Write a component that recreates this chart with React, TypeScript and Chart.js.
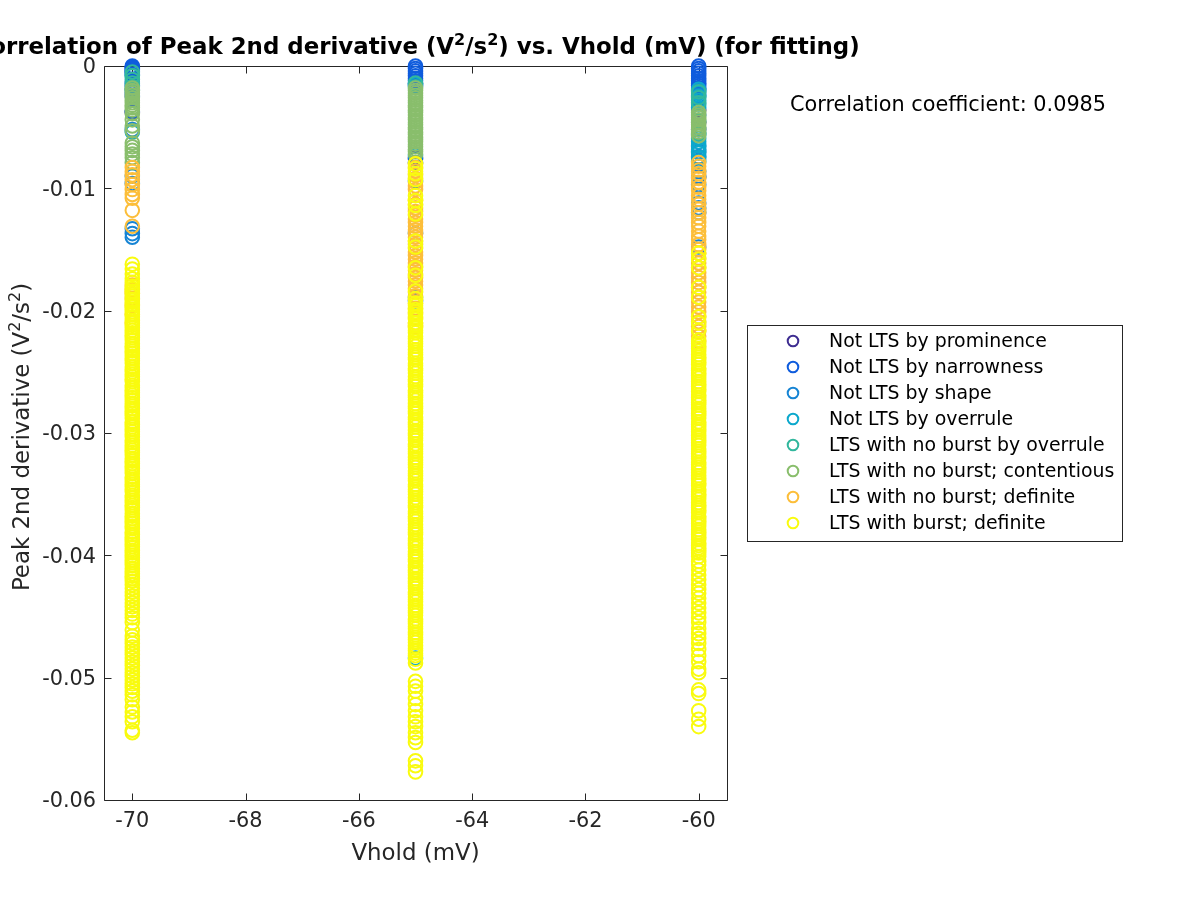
import React, { useEffect, useRef } from "react";
import { Chart, registerables } from "chart.js";

Chart.register(...registerables);

// ---------------- data ----------------
const vholdLevels = [-70, -65, -60];
const xTickValues = [-70, -68, -66, -64, -62, -60];
const xTickLabels = ["-70", "-68", "-66", "-64", "-62", "-60"];
const yTickValues = [0, -0.01, -0.02, -0.03, -0.04, -0.05, -0.06];
const yTickLabels = ["0", "-0.01", "-0.02", "-0.03", "-0.04", "-0.05", "-0.06"];
const groupNames = [
  "Not LTS by prominence",
  "Not LTS by narrowness",
  "Not LTS by shape",
  "Not LTS by overrule",
  "LTS with no burst by overrule",
  "LTS with no burst; contentious",
  "LTS with no burst; definite",
  "LTS with burst; definite",
];
const groupColors = [
  "rgb(62,45,145)",
  "rgb(15,92,221)",
  "rgb(22,132,212)",
  "rgb(12,168,204)",
  "rgb(50,183,157)",
  "rgb(137,190,108)",
  "rgb(252,190,58)",
  "rgb(249,251,14)",
];
const correlationText = "Correlation coefficient: 0.0985";

// Not LTS by prominence
const prominenceAt70 = [-0.0038];
const prominenceAt65 = [-0.0075];
const prominenceAt60 = [-0.0036, -0.0046];

// Not LTS by narrowness
const narrownessAt70 = [0, -0.0001, -0.0002, -0.0003, -0.0004, -0.0005, -0.0007, -0.0013, -0.0016, -0.0019, -0.0022, -0.0025, -0.0037];
const narrownessAt65 = [0, -0.0002, -0.0004, -0.0006, -0.0008, -0.001, -0.0012, -0.0014, -0.0016, -0.0076, -0.0079];
const narrownessAt60 = [0, -0.0002, -0.0004, -0.0006, -0.0008, -0.001, -0.0012, -0.0014, -0.0016, -0.0018, -0.0052, -0.0091];

// Not LTS by shape
const shapeAt70 = [-0.0052, -0.009, -0.0096, -0.0133, -0.0137, -0.014];
const shapeAt65 = [-0.0094, -0.0137, -0.0189, -0.0192];
const shapeAt60 = [-0.002, -0.0024, -0.004, -0.0066, -0.007, -0.0074, -0.0086, -0.009, -0.0097, -0.0112, -0.0116, -0.012, -0.0148];

// Not LTS by overrule
const overruleAt70 = [-0.0008, -0.0054];
const overruleAt65 = [-0.0015, -0.0073, -0.0484];
const overruleAt60 = [-0.0019, -0.0022, -0.0025, -0.0028, -0.0031, -0.0034, -0.0056, -0.0059, -0.0062, -0.0065, -0.0068, -0.0071, -0.0075, -0.0078];

// LTS with no burst by overrule
const noBurstOverruleAt70 = [-0.0005, -0.0008, -0.0011, -0.0014, -0.0017, -0.002];
const noBurstOverruleAt65 = [-0.0014, -0.0017];
const noBurstOverruleAt60 = [-0.0021, -0.0026, -0.003, -0.0045, -0.0055];

// LTS with no burst; contentious
const contentiousAt70 = [-0.0018, -0.002, -0.0022, -0.0024, -0.0026, -0.0028, -0.003, -0.0032, -0.0034, -0.0036, -0.0039, -0.0044, -0.0049, -0.0053, -0.0063, -0.0066, -0.0069, -0.0072, -0.0075, -0.0079];
const contentiousAt65 = [-0.0018, -0.002, -0.0022, -0.0024, -0.0026, -0.0028, -0.003, -0.0032, -0.0034, -0.0036, -0.0038, -0.004, -0.0042, -0.0044, -0.0046, -0.0048, -0.005, -0.0052, -0.0054, -0.0056, -0.0058, -0.006, -0.0062, -0.0064, -0.0066, -0.0068, -0.007, -0.0072];
const contentiousAt60 = [-0.0038, -0.004, -0.0042, -0.0044, -0.0046, -0.0048, -0.005, -0.0052, -0.0054, -0.0057];

// LTS with no burst; definite
const noBurstDefiniteAt70 = [-0.0083, -0.0086, -0.0089, -0.0093, -0.0097, -0.0101, -0.0105, -0.0108, -0.0118, -0.0131, -0.0179, -0.0183, -0.0186, -0.019, -0.0196, -0.0203, -0.021];
const noBurstDefiniteAt65 = [
  -0.008, -0.0083, -0.0086, -0.0089, -0.0092, -0.0095, -0.0098, -0.0101, -0.011, -0.0113,
  -0.0116, -0.0119, -0.0122, -0.0125, -0.0128, -0.0131, -0.0134, -0.0137, -0.014, -0.0143,
  -0.0146, -0.0149, -0.0152, -0.0155, -0.0158, -0.0161, -0.0164, -0.0167, -0.017, -0.0173,
  -0.0176, -0.0179, -0.0182, -0.0185, -0.0188, -0.0191, -0.0194, -0.0198, -0.0202, -0.0206,
  -0.021, -0.0213,
];
const noBurstDefiniteAt60 = [
  -0.0079, -0.0082, -0.0085, -0.0088, -0.0092, -0.0095, -0.0099, -0.0102, -0.0106, -0.0109,
  -0.0113, -0.0117, -0.012, -0.0124, -0.0128, -0.0131, -0.0135, -0.0139, -0.0142, -0.0146,
  -0.015, -0.0153, -0.0157, -0.0161, -0.0165, -0.0169, -0.0173, -0.0177, -0.0181, -0.0185,
  -0.0189, -0.0193, -0.0197, -0.0201, -0.0205, -0.0209, -0.0213, -0.0217, -0.0221, -0.0225,
];

// LTS with burst; definite
const burstAt70 = [
  -0.0162, -0.0166, -0.017, -0.0174, -0.0177, -0.018, -0.0182, -0.0184, -0.0186, -0.0188,
  -0.0191, -0.0193, -0.0195, -0.0197, -0.0199, -0.0201, -0.0203, -0.0205, -0.0208, -0.021,
  -0.0212, -0.0214, -0.0216, -0.0218, -0.022, -0.0222, -0.0224, -0.0227, -0.0229, -0.0231,
  -0.0233, -0.0235, -0.0237, -0.0239, -0.0241, -0.0243, -0.0246, -0.0248, -0.025, -0.0252,
  -0.0254, -0.0256, -0.0258, -0.0261, -0.0263, -0.0265, -0.0267, -0.0269, -0.0271, -0.0273,
  -0.0276, -0.0278, -0.028, -0.0282, -0.0284, -0.0286, -0.0288, -0.0291, -0.0293, -0.0295,
  -0.0297, -0.0299, -0.0301, -0.0303, -0.0306, -0.0308, -0.031, -0.0312, -0.0314, -0.0316,
  -0.0318, -0.0321, -0.0323, -0.0325, -0.0327, -0.0329, -0.0331, -0.0333, -0.0336, -0.0338,
  -0.034, -0.0342, -0.0344, -0.0346, -0.0348, -0.0351, -0.0353, -0.0355, -0.0357, -0.0359,
  -0.0361, -0.0363, -0.0366, -0.0368, -0.037, -0.0372, -0.0374, -0.0376, -0.0378, -0.0381,
  -0.0383, -0.0385, -0.0387, -0.0389, -0.0391, -0.0393, -0.0396, -0.0398, -0.04, -0.0402,
  -0.0404, -0.0406, -0.0408, -0.0411, -0.0413, -0.0415, -0.0417, -0.0419, -0.0421, -0.0424,
  -0.0427, -0.043, -0.0433, -0.0436, -0.0439, -0.0442, -0.0445, -0.0448, -0.0451, -0.0455,
  -0.0461, -0.0466, -0.0469, -0.0472, -0.0475, -0.0478, -0.0481, -0.0484, -0.0487, -0.049,
  -0.0493, -0.0496, -0.0499, -0.0502, -0.0505, -0.0508, -0.0511, -0.0514, -0.0518, -0.0524,
  -0.0528, -0.0532, -0.0536, -0.0543, -0.0545,
];
const burstAt65 = [
  -0.008, -0.0084, -0.0088, -0.0093, -0.0106, -0.011, -0.0114, -0.0121, -0.0143, -0.0148,
  -0.0165, -0.0171, -0.0184, -0.019,
  -0.0194, -0.0196, -0.0199, -0.0201, -0.0203, -0.0205, -0.0207, -0.021, -0.0212, -0.0214,
  -0.0216, -0.0218, -0.0221, -0.0223, -0.0225, -0.0227, -0.0229, -0.0232, -0.0234, -0.0236,
  -0.0238, -0.024, -0.0243, -0.0245, -0.0247, -0.0249, -0.0251, -0.0254, -0.0256, -0.0258,
  -0.026, -0.0262, -0.0265, -0.0267, -0.0269, -0.0271, -0.0273, -0.0276, -0.0278, -0.028,
  -0.0282, -0.0284, -0.0287, -0.0289, -0.0291, -0.0293, -0.0295, -0.0298, -0.03, -0.0302,
  -0.0304, -0.0306, -0.0309, -0.0311, -0.0313, -0.0315, -0.0317, -0.032, -0.0322, -0.0324,
  -0.0326, -0.0328, -0.0331, -0.0333, -0.0335, -0.0337, -0.0339, -0.0342, -0.0344, -0.0346,
  -0.0348, -0.035, -0.0353, -0.0355, -0.0357, -0.0359, -0.0361, -0.0364, -0.0366, -0.0368,
  -0.037, -0.0372, -0.0375, -0.0377, -0.0379, -0.0381, -0.0383, -0.0386, -0.0388, -0.039,
  -0.0392, -0.0394, -0.0397, -0.0399, -0.0401, -0.0403, -0.0405, -0.0408, -0.041, -0.0412,
  -0.0414, -0.0416, -0.0419, -0.0421, -0.0423, -0.0425, -0.0427, -0.043, -0.0432, -0.0434,
  -0.0436, -0.0438, -0.0441, -0.0443, -0.0445, -0.0447, -0.0449, -0.0452, -0.0454, -0.0456,
  -0.0458, -0.046, -0.0463, -0.0465, -0.0467, -0.0469, -0.0471, -0.0474, -0.0476, -0.0478,
  -0.048, -0.0482, -0.0485, -0.0488,
  -0.0503, -0.0507, -0.0511, -0.0517, -0.0522, -0.0527, -0.0532, -0.0536, -0.054, -0.0545,
  -0.0549, -0.0553, -0.0568, -0.0572, -0.0577,
];
const burstAt60 = [
  -0.0153, -0.0158, -0.0165, -0.0181, -0.0189, -0.0205, -0.021, -0.0216,
  -0.0224, -0.0227, -0.0229, -0.0231, -0.0233, -0.0236, -0.0238, -0.024, -0.0242, -0.0244,
  -0.0247, -0.0249, -0.0251, -0.0253, -0.0255, -0.0258, -0.026, -0.0262, -0.0264, -0.0266,
  -0.0269, -0.0271, -0.0273, -0.0275, -0.0277, -0.028, -0.0282, -0.0284, -0.0286, -0.0288,
  -0.0291, -0.0293, -0.0295, -0.0297, -0.0299, -0.0302, -0.0304, -0.0306, -0.0308, -0.031,
  -0.0313, -0.0315, -0.0317, -0.0319, -0.0321, -0.0324, -0.0326, -0.0328, -0.033, -0.0332,
  -0.0335, -0.0337, -0.0339, -0.0341, -0.0343, -0.0346, -0.0348, -0.035, -0.0352, -0.0354,
  -0.0357, -0.0359, -0.0361, -0.0363, -0.0365, -0.0368, -0.037, -0.0372, -0.0374, -0.0376,
  -0.0379, -0.0381, -0.0383, -0.0385, -0.0387, -0.039, -0.0392, -0.0394, -0.0396, -0.0398,
  -0.0401, -0.0405, -0.0408, -0.0412, -0.0416, -0.042, -0.0424, -0.0428, -0.0431, -0.0435,
  -0.0439, -0.0443, -0.0447, -0.0451, -0.0455, -0.046, -0.0464, -0.0468, -0.0472, -0.0477,
  -0.0482, -0.0487, -0.0493, -0.0496, -0.051, -0.0513, -0.0527, -0.0534, -0.054,
];

const groupValues = [
  [prominenceAt70, prominenceAt65, prominenceAt60],
  [narrownessAt70, narrownessAt65, narrownessAt60],
  [shapeAt70, shapeAt65, shapeAt60],
  [overruleAt70, overruleAt65, overruleAt60],
  [noBurstOverruleAt70, noBurstOverruleAt65, noBurstOverruleAt60],
  [contentiousAt70, contentiousAt65, contentiousAt60],
  [noBurstDefiniteAt70, noBurstDefiniteAt65, noBurstDefiniteAt60],
  [burstAt70, burstAt65, burstAt60],
];

// ---------------- drawing helpers ----------------
const FONT = '"DejaVu Sans", "Liberation Sans", sans-serif';
const AXIS_COLOR = "#262626";

type Seg = { t: string; sup?: boolean };

function segFont(size: number, bold: boolean, sup?: boolean) {
  const s = sup ? size * 0.7 : size;
  return `${bold ? "bold " : ""}${s}px ${FONT}`;
}

function richWidth(ctx: CanvasRenderingContext2D, segs: Seg[], size: number, bold: boolean) {
  let w = 0;
  for (const s of segs) {
    ctx.font = segFont(size, bold, s.sup);
    w += ctx.measureText(s.t).width;
  }
  return w;
}

function drawRich(ctx: CanvasRenderingContext2D, segs: Seg[], cx: number, baseline: number, size: number, bold: boolean) {
  const total = richWidth(ctx, segs, size, bold);
  let x = cx - total / 2;
  ctx.textAlign = "left";
  ctx.textBaseline = "alphabetic";
  for (const s of segs) {
    ctx.font = segFont(size, bold, s.sup);
    const y = s.sup ? baseline - size * 0.4 : baseline;
    ctx.fillText(s.t, x, y);
    x += ctx.measureText(s.t).width;
  }
}

const titleSegs: Seg[] = [
  { t: "Correlation of Peak 2nd derivative (V" },
  { t: "2", sup: true },
  { t: "/s" },
  { t: "2", sup: true },
  { t: ") vs. Vhold (mV) (for fitting)" },
];
const yLabelSegs: Seg[] = [
  { t: "Peak 2nd derivative (V" },
  { t: "2", sup: true },
  { t: "/s" },
  { t: "2", sup: true },
  { t: ")" },
];
const xLabelText = "Vhold (mV)";

const matlabPlugin = {
  id: "matlabLook",
  beforeDraw(chart: any) {
    const ctx = chart.ctx as CanvasRenderingContext2D;
    ctx.save();
    ctx.fillStyle = "#ffffff";
    ctx.fillRect(0, 0, chart.width, chart.height);
    ctx.restore();
  },
  beforeDatasetsDraw(chart: any) {
    const ctx = chart.ctx as CanvasRenderingContext2D;
    const a = chart.chartArea;
    const xs = chart.scales.x;
    const ys = chart.scales.y;
    ctx.save();
    ctx.strokeStyle = AXIS_COLOR;
    ctx.lineWidth = 1;
    const L = Math.round(a.left) + 0.5;
    const R = Math.round(a.right) + 0.5;
    const T = Math.round(a.top) + 0.5;
    const B = Math.round(a.bottom) + 0.5;
    ctx.beginPath();
    ctx.rect(L, T, R - L, B - T);
    ctx.stroke();
    const tl = 7;
    ctx.beginPath();
    xTickValues.forEach((v) => {
      const px = Math.round(xs.getPixelForValue(v)) + 0.5;
      ctx.moveTo(px, B);
      ctx.lineTo(px, B - tl);
      ctx.moveTo(px, T);
      ctx.lineTo(px, T + tl);
    });
    yTickValues.forEach((v) => {
      const py = Math.round(ys.getPixelForValue(v)) + 0.5;
      ctx.moveTo(L, py);
      ctx.lineTo(L + tl, py);
      ctx.moveTo(R, py);
      ctx.lineTo(R - tl, py);
    });
    ctx.stroke();

    ctx.fillStyle = AXIS_COLOR;
    ctx.font = `20.8px ${FONT}`;
    ctx.textAlign = "center";
    ctx.textBaseline = "middle";
    xTickValues.forEach((v, i) => {
      ctx.fillText(xTickLabels[i], xs.getPixelForValue(v), a.bottom + 22);
    });
    ctx.textAlign = "right";
    yTickValues.forEach((v, i) => {
      ctx.fillText(yTickLabels[i], a.left - 8, ys.getPixelForValue(v) + 2);
    });

    // axis labels
    ctx.textAlign = "center";
    ctx.textBaseline = "alphabetic";
    ctx.font = `22.9px ${FONT}`;
    ctx.fillText(xLabelText, (a.left + a.right) / 2, 860);

    ctx.save();
    ctx.translate(29, (a.top + a.bottom) / 2 + 4);
    ctx.rotate(-Math.PI / 2);
    drawRich(ctx, yLabelSegs, 0, 0, 22.9, false);
    ctx.restore();
    ctx.restore();
  },
  afterDraw(chart: any) {
    const ctx = chart.ctx as CanvasRenderingContext2D;
    const a = chart.chartArea;
    ctx.save();
    // title
    ctx.fillStyle = "#000000";
    drawRich(ctx, titleSegs, (a.left + a.right) / 2 + 1, 54, 22.9, true);

    // correlation text
    ctx.fillStyle = "#000000";
    ctx.font = `20.8px ${FONT}`;
    ctx.textAlign = "left";
    ctx.textBaseline = "alphabetic";
    ctx.fillText(correlationText, 790, 111);

    // legend
    const bx = 747.5, by = 325.5, bw = 375, bh = 216;
    ctx.fillStyle = "#ffffff";
    ctx.fillRect(bx, by, bw, bh);
    ctx.strokeStyle = AXIS_COLOR;
    ctx.lineWidth = 1;
    ctx.strokeRect(bx, by, bw, bh);
    ctx.font = `18.9px ${FONT}`;
    ctx.textBaseline = "middle";
    ctx.textAlign = "left";
    groupNames.forEach((name, i) => {
      const cy = 341 + i * 26;
      ctx.beginPath();
      ctx.strokeStyle = groupColors[i];
      ctx.lineWidth = 2;
      ctx.arc(793, cy, 5.3, 0, Math.PI * 2);
      ctx.stroke();
      ctx.fillStyle = "#000000";
      ctx.fillText(name, 829, cy + 1);
    });
    ctx.restore();
  },
};

function toPoints(cols: number[][]) {
  const pts: { x: number; y: number }[] = [];
  cols.forEach((ys, i) => {
    ys.forEach((y) => pts.push({ x: vholdLevels[i], y }));
  });
  return pts;
}

export default function App() {
  const canvasRef = useRef<HTMLCanvasElement | null>(null);

  useEffect(() => {
    const canvas = canvasRef.current;
    if (!canvas) return;
    const n = groupNames.length;
    const chart = new Chart(canvas, {
      type: "scatter",
      data: {
        datasets: groupNames.map((name, i) => ({
          label: name,
          data: toPoints(groupValues[i]),
          pointStyle: "circle",
          pointRadius: 6.8,
          pointHoverRadius: 6.8,
          pointBorderWidth: 2,
          pointBorderColor: groupColors[i],
          pointBackgroundColor: "rgba(0,0,0,0)",
          borderColor: groupColors[i],
          backgroundColor: "rgba(0,0,0,0)",
          showLine: false,
          clip: false,
          order: n - 1 - i,
        })),
      },
      options: {
        animation: false,
        responsive: false,
        devicePixelRatio: 1,
        events: [],
        layout: { padding: { left: 104, right: 473, top: 66, bottom: 100 } },
        scales: {
          x: { type: "linear", min: -70.5, max: -59.5, display: false },
          y: { type: "linear", min: -0.06, max: 0, display: false },
        },
        plugins: {
          legend: { display: false },
          title: { display: false },
          tooltip: { enabled: false },
        },
      },
      plugins: [matlabPlugin],
    } as any);
    return () => chart.destroy();
  }, []);

  return (
    <div style={{ position: "absolute", left: 0, top: 0, width: 1200, height: 900, background: "#fff" }}>
      <canvas ref={canvasRef} width={1200} height={900} style={{ display: "block", width: 1200, height: 900 }} />
    </div>
  );
}
